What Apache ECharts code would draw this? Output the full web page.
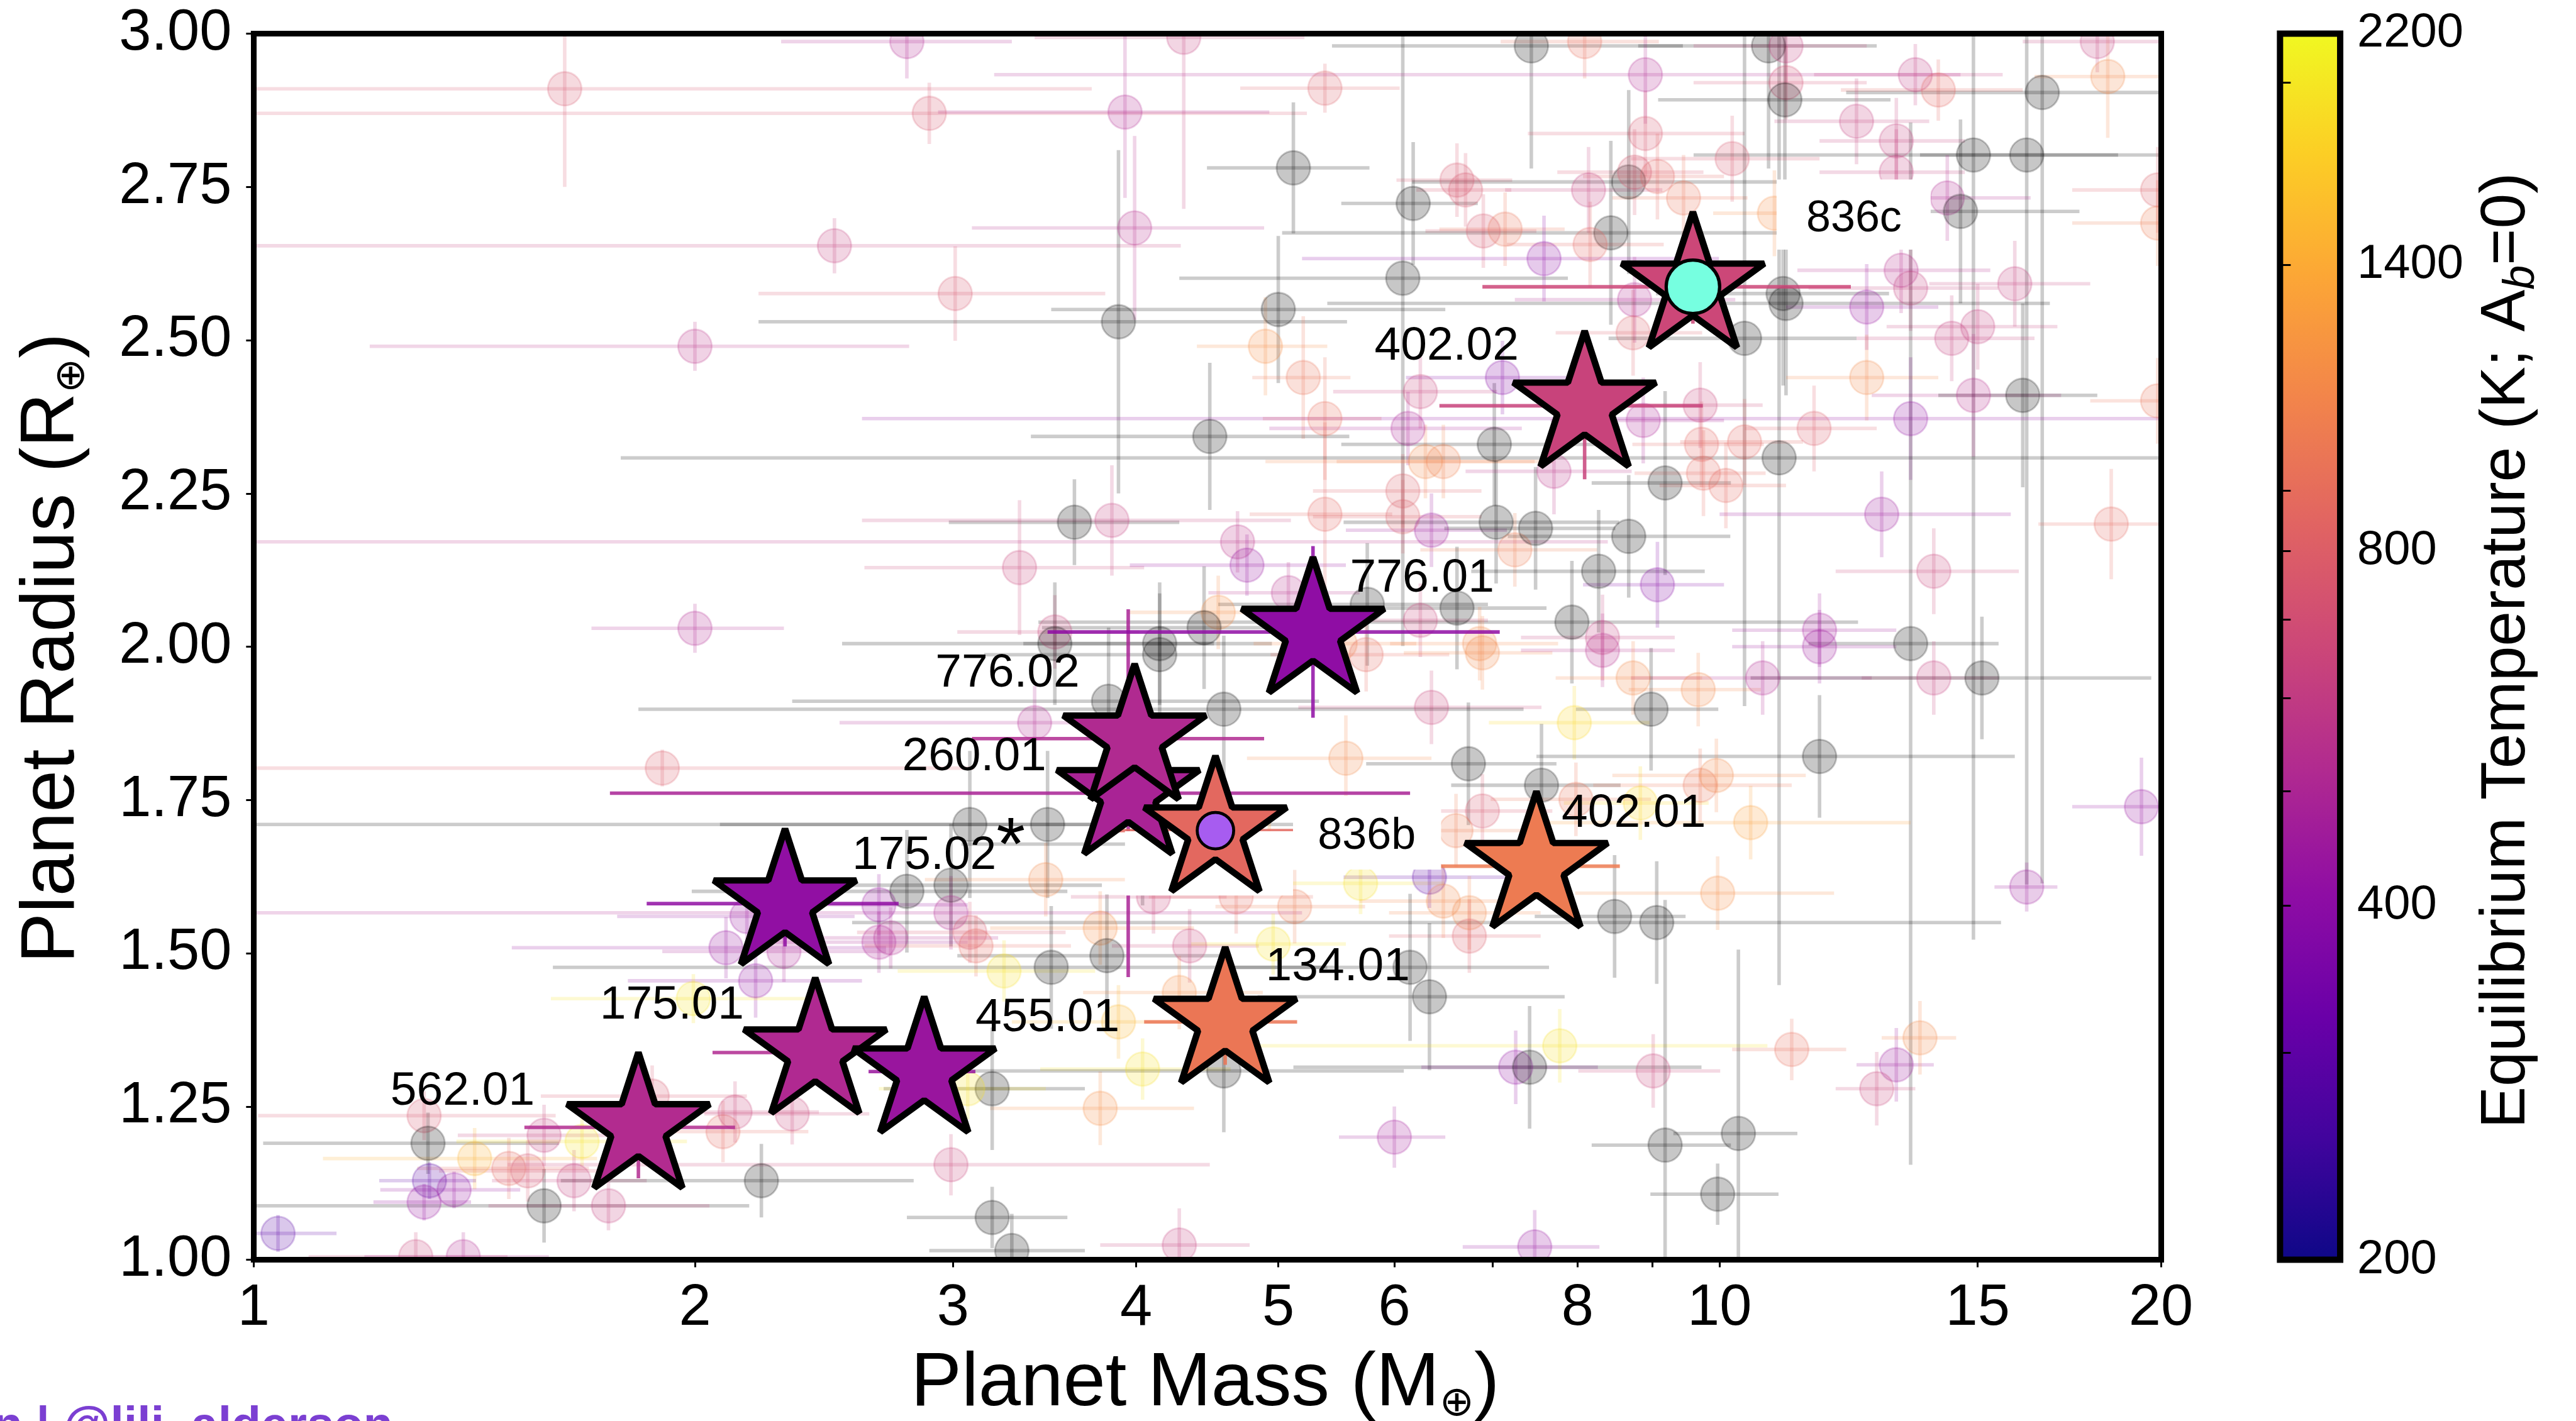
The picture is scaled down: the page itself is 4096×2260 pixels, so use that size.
<!DOCTYPE html>
<html><head><meta charset="utf-8">
<script src="https://cdn.jsdelivr.net/npm/echarts@6/dist/echarts.min.js"></script>
<style>html,body{margin:0;padding:0;background:#fff;}#c{width:4096px;height:2260px;}</style>
</head><body><div id="c"></div>
<script>
// ---------------- DATA ----------------
const xTickLabels = [1, 2, 3, 4, 5, 6, 8, 10, 15, 20];
const xTickMarks = [1, 2, 3, 4, 5, 6, 7, 8, 9, 10, 15, 20];
const yRange = [1.0, 3.0];
const cbarTickLabels = [200, 400, 800, 1400, 2200];
const cbarTickMarks = [200, 300, 400, 500, 600, 700, 800, 900, 1400, 2000, 2200];

// Highlighted planets (TOI)
const starNames  = ['562.01', '175.01', '455.01', '175.02', '260.01', '776.02', '776.01', '134.01', '402.01', '402.02', '836b', '836c'];
const starMark   = ['', '', '', '*', '', '', '', '', '', '', '', ''];
const starMass   = [1.83, 2.416, 2.867, 2.304, 3.95, 3.99, 5.28, 4.60, 7.50, 8.09, 4.53, 9.59];
const starRadius = [1.216, 1.338, 1.307, 1.581, 1.761, 1.850, 2.024, 1.388, 1.642, 2.393, 1.700, 2.587];
const starTeq    = [525, 517, 440, 416, 493, 520, 410, 965, 1001, 642, 871, 665];
const starMassErr   = [0.30, 0.36, 0.24, 0.45, 2.2, 0.9, 1.8, 0.55, 1.05, 1.65, 0.75, 2.7];
const starRadiusErr = [0.083, 0.05, 0.05, 0.07, 0.30, 0.10, 0.14, 0.07, 0.05, 0.12, 0.05, 0.06];

// Background planets (0 = no Teq, drawn grey)
const bgMass = [
  1.63, 2.89, 2.49, 3.01, 3.89, 2.00, 2.00,
  2.79, 4.31, 3.93, 5.38, 5.12, 3.99, 5.00, 4.90, 5.20, 5.38,
  4.49, 6.18, 6.08, 6.62, 6.71, 6.90, 7.14, 6.25, 6.13, 6.30,
  6.48, 6.08, 6.08, 6.36, 7.02, 7.04, 7.11, 7.25, 3.63, 3.85,
  3.33, 4.69, 4.76, 5.38, 5.08, 4.55, 4.45, 4.15, 3.52, 3.52,
  6.25, 6.62, 5.75, 6.86, 5.51,
  7.44, 8.09, 8.90, 10.8, 11.1, 11.1, 11.08, 13.6, 14.1, 16.6,
  18.4, 18.1, 8.90, 10.2, 12.4, 13.2, 13.2, 14.9, 16.2, 19.9,
  19.9, 14.3, 14.6, 8.14, 8.67, 9.07, 8.75, 9.45, 8.43, 8.16,
  7.59, 10.9, 8.75, 8.73, 10.4, 11.05, 11.1, 13.3, 13.5, 12.6,
  15.9, 14.4, 15.0, 12.6, 14.9, 16.1, 19.9, 13.5, 8.87, 9.70,
  9.72, 10.4, 11.6, 10.98, 9.18, 9.75, 10.1, 7.71, 12.9, 18.5,
  7.49, 8.67, 14.0, 8.27, 9.07, 7.93, 8.32, 11.7, 13.5,
  1.90, 2.10, 2.17, 2.30, 2.20, 2.67, 2.67, 1.995, 1.307, 1.315,
  1.415, 1.493, 1.538, 1.578, 1.675, 1.654, 1.318, 1.37, 1.307, 1.578,
  1.746, 1.039, 2.09, 2.13, 2.33, 2.22, 1.87, 1.29, 1.39,
  4.15, 5.74, 6.89, 6.36, 4.59, 3.83, 3.41, 5.56, 6.74, 6.89,
  6.61, 3.08, 3.48, 4.04, 4.93, 4.83, 3.47, 2.79, 2.99, 2.99,
  3.08, 3.11, 2.72, 3.78, 3.82, 3.25, 3.50, 4.11, 4.35, 4.68,
  4.96, 5.13, 5.69, 6.34, 6.48, 6.75, 6.75, 6.15, 6.34, 4.28,
  3.89, 4.04, 3.78, 3.19, 3.07, 4.59, 6.0, 7.26, 2.99, 3.19,
  3.29, 4.28,
  8.32, 8.73, 9.67, 10.7, 11.7, 14.0, 15.1, 7.96, 8.98, 11.7,
  7.56, 7.98, 8.83, 9.70, 9.95, 10.5, 19.4, 16.2, 9.97, 8.48,
  9.06, 7.78, 7.42, 9.01, 11.2, 13.2, 12.8, 13.7, 9.18, 10.3,
  9.97, 7.48
];
const bgRadius = [
  2.91, 2.87, 2.654, 2.576, 2.530, 2.49, 2.03,
  2.987, 2.994, 2.872, 2.911, 2.781, 2.683, 2.550, 2.490, 2.439, 2.372,
  2.343, 2.723, 2.601, 2.761, 2.745, 2.678, 2.681, 2.416, 2.356, 2.302,
  2.302, 2.254, 2.212, 2.190, 2.330, 2.203, 2.439, 2.158, 2.203, 2.206,
  2.129, 2.171, 2.133, 2.216, 2.088, 2.056, 2.031, 2.005, 2.024, 2.005,
  2.043, 2.063, 2.069, 2.005, 2.005,
  2.98, 2.987, 2.933, 2.98, 2.98, 2.92, 2.892, 2.933, 2.908, 2.904,
  2.930, 2.987, 2.837, 2.796, 2.857, 2.825, 2.774, 2.802, 2.802, 2.745,
  2.691, 2.732, 2.710, 2.745, 2.758, 2.767, 2.774, 2.732, 2.675, 2.656,
  2.633, 2.707, 2.566, 2.512, 2.503, 2.576, 2.560, 2.614, 2.585, 2.554,
  2.592, 2.503, 2.522, 2.439, 2.410, 2.410, 2.401, 2.372, 2.369, 2.394,
  2.330, 2.334, 2.356, 2.308, 2.267, 2.283, 2.263, 2.286, 2.216, 2.200,
  2.193, 2.180, 2.123, 2.123, 2.101, 2.040, 2.015, 2.027, 2.005,
  1.802, 1.509, 1.56, 1.503, 1.455, 1.579, 1.518, 1.426, 1.235, 1.190,
  1.165, 1.149, 1.145, 1.203, 1.193, 1.129, 1.129, 1.114, 1.094, 1.088,
  1.088, 1.043, 1.209, 1.241, 1.238, 1.129, 1.267, 1.005, 1.005,
  1.987, 1.987, 1.99, 1.901, 1.898, 1.911, 1.876, 1.818, 1.809, 1.732,
  1.700, 1.71, 1.71, 1.678, 1.668, 1.668, 1.62, 1.601, 1.611, 1.566,
  1.534, 1.512, 1.525, 1.541, 1.496, 1.471, 1.477, 1.592, 1.512, 1.592,
  1.515, 1.576, 1.614, 1.624, 1.585, 1.566, 1.528, 1.477, 1.429, 1.436,
  1.388, 1.311, 1.247, 1.279, 1.279, 1.308, 1.20, 1.314, 1.155, 1.069,
  1.015, 1.024,
  1.994, 1.949, 1.930, 1.949, 2.0, 1.949, 1.949, 1.876, 1.898, 1.821,
  1.774, 1.751, 1.745, 1.774, 1.790, 1.713, 1.739, 1.608, 1.598, 1.560,
  1.550, 1.349, 1.314, 1.308, 1.343, 1.318, 1.279, 1.362, 1.187, 1.206,
  1.107, 1.021
];
const bgTeq = [
  750, 750, 620, 750, 0, 560, 520,
  520, 620, 520, 800, 0, 540, 0, 1150, 950, 900,
  0, 0, 0, 750, 750, 750, 950, 640, 500, 1100,
  1050, 800, 800, 450, 0, 0, 380, 1000, 0, 620,
  650, 560, 430, 850, 550, 1150, 0, 0, 650, 0,
  650, 0, 0, 1100, 1100,
  0, 900, 520, 0, 620, 700, 0, 600, 850, 0,
  1100, 620, 750, 750, 620, 620, 620, 0, 0, 800,
  1000, 520, 0, 620, 0, 850, 750, 950, 0, 850,
  400, 1150, 520, 800, 0, 0, 0, 540, 620, 430,
  620, 620, 620, 1100, 540, 0, 950, 420, 500, 650,
  850, 850, 780, 0, 0, 880, 880, 560, 450, 880,
  0, 0, 650, 0, 380, 0, 620, 470, 0,
  780, 430, 430, 500, 420, 430, 500, 1950, 750, 0,
  1450, 880, 750, 620, 1950, 620, 290, 430, 430, 0,
  620, 290, 880, 650, 650, 0, 750, 650, 520,
  0, 880, 1100, 650, 0, 0, 520, 1100, 0, 750,
  1000, 0, 0, 0, 1350, 500, 1100, 0, 0, 520,
  750, 880, 520, 1150, 0, 1900, 0, 650, 650, 880,
  1900, 1000, 1900, 300, 1100, 1100, 780, 0, 0, 1150,
  1500, 1900, 1150, 0, 1900, 0, 470, 420, 650, 0,
  0, 620,
  540, 1100, 1100, 520, 450, 620, 0, 1800, 0, 0,
  0, 950, 1800, 950, 1100, 1300, 430, 450, 1150, 0,
  0, 1900, 0, 650, 900, 450, 650, 1100, 0, 0,
  0, 430
];
const bgMassErr = [
  2.1, 2.34, 1.8, 0.8, 1.68, 0.8, 0.3,
  0.5, 0.9, 1.0, 0.67, 0.65, 0.9, 1.5, 0.5, 0.4, 0.5,
  1.1, 0.66, 1.8, 0.6, 0.5, 0.6, 0.7, 0.8, 1.2, 1.4,
  1.0, 0.8, 0.8, 0.8, 1.5, 1.5, 1.0, 1.0, 0.65, 1.25,
  0.72, 3.7, 0.8, 0.6, 0.6, 0.6, 1.0, 0.8, 0.5, 1.0,
  0.7, 1.0, 1.2, 0.9, 0.7,
  2.0, 1.0, 5.7, 2.0, 1.5, 1.5, 2.0, 2.0, 2.0, 4.4,
  2.0, 2.0, 1.5, 1.5, 1.5, 1.5, 1.5, 5.3, 2.5, 2.5,
  2.5, 2.0, 3.0, 1.0, 2.5, 1.0, 1.0, 1.0, 3.4, 1.0,
  2.4, 1.0, 1.5, 1.0, 2.0, 2.0, 5.7, 2.0, 2.0, 1.5,
  2.0, 2.0, 2.0, 1.5, 2.2, 2.0, 2.0, 10.9, 1.2, 1.0,
  1.0, 1.0, 1.2, 9.2, 1.0, 1.0, 1.0, 1.0, 2.9, 2.0,
  1.0, 1.5, 2.0, 1.5, 1.0, 4.5, 1.0, 1.5, 2.0,
  1.2, 0.6, 0.4, 0.4, 0.4, 0.4, 0.4, 0.4, 0.3, 0.3,
  0.3, 0.2, 0.2, 0.2, 0.3, 0.2, 0.1, 0.15, 0.1, 0.6,
  0.3, 0.1, 0.3, 0.3, 0.3, 0.6, 0.3, 0.2, 0.2,
  1.0, 0.8, 0.8, 1.2, 2.76, 1.5, 0.9, 0.8, 1.0, 0.8,
  0.8, 1.0, 2.6, 1.0, 0.8, 0.5, 0.6, 0.8, 0.8, 2.2,
  0.5, 0.5, 0.5, 0.6, 0.8, 0.5, 1.9, 0.5, 0.5, 0.6,
  0.6, 0.6, 0.8, 0.8, 0.8, 0.8, 0.8, 1.5, 1.5, 0.6,
  0.6, 0.6, 0.6, 0.5, 0.4, 1.5, 0.5, 1.0, 1.5, 0.4,
  0.4, 0.5,
  1.0, 1.0, 1.0, 2.0, 1.5, 1.5, 4.6, 1.0, 1.0, 4.2,
  1.0, 1.0, 1.0, 1.5, 1.5, 3.0, 2.0, 0.8, 2.0, 1.0,
  6.5, 3.0, 2.3, 1.0, 1.0, 0.8, 0.8, 0.8, 1.0, 1.0,
  1.0, 0.8
];
const bgRadiusErr = [
  0.16, 0.05, 0.045, 0.077, 0.28, 0.04, 0.04,
  0.06, 0.28, 0.14, 0.04, 0.107, 0.15, 0.12, 0.08, 0.1, 0.1,
  0.12, 0.1, 0.6, 0.06, 0.06, 0.06, 0.06, 0.06, 0.06, 0.06,
  0.06, 0.06, 0.06, 0.06, 0.1, 0.1, 0.06, 0.06, 0.07, 0.09,
  0.11, 0.05, 0.05, 0.15, 0.05, 0.06, 0.1, 0.1, 0.06, 0.1,
  0.06, 0.1, 0.1, 0.06, 0.06,
  0.2, 0.06, 0.08, 0.2, 0.06, 0.06, 0.15, 0.05, 0.05, 1.29,
  0.1, 0.05, 0.07, 0.07, 0.07, 0.07, 0.07, 1.28, 1.19, 0.07,
  0.07, 0.07, 0.15, 0.07, 0.15, 0.07, 0.07, 0.07, 0.15, 0.07,
  0.07, 0.07, 0.07, 0.07, 0.6, 0.15, 0.15, 0.07, 0.07, 0.07,
  0.07, 0.07, 0.07, 0.07, 0.1, 0.15, 0.07, 0.1, 0.07, 0.07,
  0.07, 0.07, 0.07, 0.86, 0.15, 0.07, 0.07, 0.07, 0.07, 0.09,
  0.1, 0.1, 0.07, 0.1, 0.07, 0.1, 0.07, 0.06, 0.85,
  0.03, 0.05, 0.05, 0.05, 0.06, 0.05, 0.05, 0.04, 0.04, 0.05,
  0.05, 0.05, 0.05, 0.05, 0.04, 0.05, 0.03, 0.03, 0.03, 0.06,
  0.04, 0.03, 0.05, 0.05, 0.05, 0.06, 0.05, 0.04, 0.04,
  0.1, 0.06, 0.06, 0.06, 0.12, 0.12, 0.06, 0.07, 0.1, 0.06,
  0.06, 0.12, 0.12, 0.1, 0.06, 0.04, 0.06, 0.1, 0.1, 0.06,
  0.05, 0.05, 0.05, 0.06, 0.1, 0.05, 0.1, 0.06, 0.06, 0.06,
  0.05, 0.06, 0.05, 0.05, 0.06, 0.06, 0.06, 0.12, 0.12, 0.06,
  0.06, 0.05, 0.06, 0.1, 0.05, 0.1, 0.05, 0.06, 0.05, 0.05,
  0.06, 0.06,
  0.06, 0.06, 0.06, 0.06, 0.06, 0.06, 0.1, 0.06, 0.1, 0.1,
  0.1, 0.06, 0.06, 0.06, 0.06, 0.06, 0.08, 0.04, 0.06, 0.1,
  0.1, 0.06, 0.1, 0.06, 0.05, 0.06, 0.06, 0.06, 0.4, 0.3,
  0.05, 0.06
];

// ---------------- LAYOUT / STYLE ----------------
const S = 0.938;
const FONT = "'Liberation Sans', Arial, Helvetica, 'DejaVu Sans', sans-serif";
const GX = 430 * S, GY = 57 * S, GW = (3663 - 430) * S, GH = (2136 - 57) * S;
const CX = 3865 * S, CW = (3967 - 3865) * S;
const STAR_R = 127 * S;
const BAR_W = 6 * S;
const DOT_R = 30 * S;
// label offsets (px, from star centre)
const LABEL_DX = [-298, -243, 209, 260.5, -261, -215.5, 185, 191, 165, -234, 256.5, 273].map(v => v * S);
const LABEL_DY = [-60, -80, -90, -81, -61, -110, -90.6, -92.7, -88.6, -100, 10, -115].map(v => v * S);

const PLASMA = [[13,8,135],[65,4,157],[106,0,168],[143,13,164],[177,42,144],[204,71,120],[225,100,98],[242,132,75],[252,166,54],[252,206,37],[240,249,33]];
function plasma(t) {
  t = Math.min(1, Math.max(0, t));
  const x = t * 10, i = Math.min(9, Math.floor(x)), f = x - i;
  const a = PLASMA[i], b = PLASMA[i + 1];
  return [0, 1, 2].map(k => Math.round(a[k] + (b[k] - a[k]) * f));
}
const TMIN = cbarTickLabels[0], TMAX = cbarTickLabels[cbarTickLabels.length - 1];
function teqRGB(t) {
  if (!t) return [0, 0, 0];
  return plasma((Math.log10(t) - Math.log10(TMIN)) / (Math.log10(TMAX) - Math.log10(TMIN)));
}
function rgba(t, a) { const c = teqRGB(t); return 'rgba(' + c[0] + ',' + c[1] + ',' + c[2] + ',' + a + ')'; }

function starPath() {
  const pts = [];
  for (let i = 0; i < 10; i++) {
    const rad = (i % 2 === 0) ? 1 : 0.381966;
    const a = -Math.PI / 2 + i * Math.PI / 5;
    pts.push((rad * Math.cos(a) * 100).toFixed(3) + ',' + (rad * Math.sin(a) * 100).toFixed(3));
  }
  return 'path://M' + pts.join('L') + 'Z';
}

const bgData = bgMass.map((m, i) => [m, bgRadius[i], bgMassErr[i], bgRadiusErr[i], bgTeq[i]]);
const starData = starMass.map((m, i) => [m, starRadius[i], starMassErr[i], starRadiusErr[i], starTeq[i], i]);

function errBars(alpha) {
  return function (params, api) {
    const m = api.value(0), r = api.value(1), me = api.value(2), re = api.value(3), teq = api.value(4);
    const col = rgba(teq, alpha);
    const L = api.coord([Math.max(m - me, 0.3), r]);
    const R = api.coord([m + me, r]);
    const U = api.coord([m, r + re]);
    const D = api.coord([m, r - re]);
    return { type: 'group', children: [
      { type: 'line', shape: { x1: L[0], y1: L[1], x2: R[0], y2: R[1] }, style: { stroke: col, lineWidth: BAR_W } },
      { type: 'line', shape: { x1: U[0], y1: U[1], x2: D[0], y2: D[1] }, style: { stroke: col, lineWidth: BAR_W } }
    ] };
  };
}

const i836b = starNames.indexOf('836b'), i836c = starNames.indexOf('836c');

const chart = echarts.init(document.getElementById('c'), null, { renderer: 'canvas' });
const axisFont = { fontFamily: FONT, color: '#000' };
const option = {
  animation: false,
  backgroundColor: '#ffffff',
  grid: [
    { left: GX, top: GY, width: GW, height: GH, show: false, containLabel: false, outerBoundsMode: 'none' },
    { left: CX, top: GY, width: CW, height: GH, show: false, containLabel: false, outerBoundsMode: 'none' }
  ],
  xAxis: [
    { type: 'log', logBase: 10, gridIndex: 0, min: 1, max: 20, position: 'bottom', z: 20,
      axisLine: { show: true, lineStyle: { color: '#000', width: 9, cap: 'square' } },
      axisTick: { show: true, customValues: xTickMarks, length: 12, inside: false, lineStyle: { color: '#000', width: 3 } },
      axisLabel: Object.assign({ show: true, customValues: xTickLabels, fontSize: 92, margin: 32, formatter: v => String(Math.round(v)) }, axisFont),
      splitLine: { show: false }, minorTick: { show: false } },
    { type: 'log', logBase: 10, gridIndex: 0, min: 1, max: 20, position: 'top', z: 20,
      axisLine: { show: true, lineStyle: { color: '#000', width: 9, cap: 'square' } },
      axisTick: { show: false }, axisLabel: { show: false }, splitLine: { show: false } },
    { type: 'value', gridIndex: 1, min: 0, max: 1, show: false }
  ],
  yAxis: [
    { type: 'value', gridIndex: 0, min: yRange[0], max: yRange[1], interval: 0.25, position: 'left', z: 20,
      axisLine: { show: true, lineStyle: { color: '#000', width: 9, cap: 'square' } },
      axisTick: { show: true, length: 12, lineStyle: { color: '#000', width: 3 } },
      axisLabel: Object.assign({ show: true, fontSize: 92, margin: 35, formatter: v => v.toFixed(2) }, axisFont),
      splitLine: { show: false } },
    { type: 'value', gridIndex: 0, min: yRange[0], max: yRange[1], position: 'right', z: 20,
      axisLine: { show: true, lineStyle: { color: '#000', width: 9, cap: 'square' } },
      axisTick: { show: false }, axisLabel: { show: false }, splitLine: { show: false } },
    { type: 'log', logBase: 10, gridIndex: 1, min: TMIN, max: TMAX, position: 'right', z: 20,
      axisLine: { show: false },
      axisTick: { show: true, customValues: cbarTickMarks, length: 17, lineStyle: { color: '#000', width: 3 } },
      axisLabel: Object.assign({ show: true, customValues: cbarTickLabels, fontSize: 76, margin: 27, formatter: v => String(Math.round(v)) }, axisFont),
      splitLine: { show: false } }
  ],
  series: [
    { type: 'custom', name: 'bgErr', xAxisIndex: 0, yAxisIndex: 0, clip: true, z: 1, silent: true,
      renderItem: errBars(0.2), data: bgData },
    { type: 'custom', name: 'bgDots', xAxisIndex: 0, yAxisIndex: 0, clip: true, z: 2, silent: true,
      renderItem: function (params, api) {
        const p = api.coord([api.value(0), api.value(1)]);
        const teq = api.value(4);
        return { type: 'circle', shape: { cx: p[0], cy: p[1], r: DOT_R - 1.4 },
          style: { fill: rgba(teq, 0.22), stroke: rgba(teq, 0.22), lineWidth: 2.8 } };
      }, data: bgData },
    { type: 'custom', name: 'starErr', xAxisIndex: 0, yAxisIndex: 0, clip: true, z: 3, silent: true,
      renderItem: errBars(0.85), data: starData },
    { type: 'custom', name: 'boxes', xAxisIndex: 0, yAxisIndex: 0, clip: true, z: 4, silent: true,
      renderItem: function (params, api) {
        const idx = api.value(5);
        const p = api.coord([api.value(0), api.value(1)]);
        if (idx === i836c) {
          return { type: 'rect', shape: { x: p[0] + 142 * S, y: p[1] - 182 * S, width: 261 * S, height: 119 * S }, style: { fill: '#fff' } };
        }
        if (idx === i836b) {
          return { type: 'group', children: [
            { type: 'rect', shape: { x: p[0] + 131.5 * S, y: p[1] - 59 * S, width: 251 * S, height: 125 * S }, style: { fill: '#fff' } },
            { type: 'rect', shape: { x: p[0] - 153.5 * S, y: p[1] + 1 * S, width: 285 * S, height: 109 * S }, style: { fill: '#fff' } }
          ] };
        }
        return null;
      }, data: starData },
    { type: 'scatter', name: 'stars', xAxisIndex: 0, yAxisIndex: 0, z: 5, silent: true,
      symbol: starPath(), symbolSize: [1.902 * STAR_R, 1.809 * STAR_R], symbolOffset: [0, -0.0955 * STAR_R],
      itemStyle: { borderColor: '#000', borderWidth: 10.3, borderJoin: 'bevel', opacity: 1 },
      data: starData.map((d, i) => {
        const c = teqRGB(starTeq[i]);
        return { value: [d[0], d[1]], itemStyle: { color: 'rgb(' + c.join(',') + ')', opacity: 1 } };
      }) },
    { type: 'scatter', name: 'moons', xAxisIndex: 0, yAxisIndex: 0, z: 6, silent: true,
      symbol: 'circle', itemStyle: { opacity: 1 },
      data: [
        { value: [starMass[i836c], starRadius[i836c]], symbolSize: 85, itemStyle: { color: '#76ffe0', borderColor: '#000', borderWidth: 5.2, opacity: 1 } },
        { value: [starMass[i836b], starRadius[i836b]], symbolSize: 58, itemStyle: { color: '#a75cf0', borderColor: '#000', borderWidth: 4.7, opacity: 1 } }
      ] },
    { type: 'custom', name: 'labels', xAxisIndex: 0, yAxisIndex: 0, clip: false, z: 7, silent: true,
      renderItem: function (params, api) {
        const idx = api.value(5);
        const p = api.coord([api.value(0), api.value(1)]);
        const is836 = (idx === i836b || idx === i836c);
        const txt = starMark[idx] ? '{n|' + starNames[idx] + '}{a|' + starMark[idx] + '}' : '{n|' + starNames[idx] + '}';
        return { type: 'text', x: p[0] + LABEL_DX[idx], y: p[1] + LABEL_DY[idx],
          style: { text: txt, align: 'center', verticalAlign: 'middle',
            rich: { n: { fontFamily: FONT, fontSize: is836 ? 70 : 75, fill: '#000', lineHeight: 90 },
                    a: { fontFamily: FONT, fontSize: 118, fill: '#000', lineHeight: 90, padding: [0, 0, 22, 0] } } } };
      }, data: starData },
    { type: 'custom', name: 'colorbar', xAxisIndex: 2, yAxisIndex: 2, z: 2, silent: true,
      renderItem: function (params, api) {
        const p0 = api.coord([0, TMIN]);
        const p1 = api.coord([1, TMAX]);
        const stops = PLASMA.map((c, i) => ({ offset: i / 10, color: 'rgb(' + c.join(',') + ')' }));
        return { type: 'rect', shape: { x: p0[0], y: p1[1], width: p1[0] - p0[0], height: p0[1] - p1[1] },
          style: { fill: new echarts.graphic.LinearGradient(0, 1, 0, 0, stops), stroke: '#000', lineWidth: 10 } };
      }, data: [[0, TMIN]] }
  ],
  graphic: [
    { type: 'text', x: 2043 * S, y: 2202, silent: true,
      style: { text: '{m|Planet Mass (M}{s|⊕}{m|)}', align: 'center', verticalAlign: 'middle',
        rich: { m: { fontFamily: FONT, fontSize: 121, fill: '#000', lineHeight: 134 },
                s: { fontFamily: "'DejaVu Sans', sans-serif", fontSize: 66, fill: '#000', lineHeight: 134, padding: [64, 0, 0, 0] } } } },
    { type: 'text', x: 84, y: 1099 * S, rotation: Math.PI / 2, silent: true,
      style: { text: '{m|Planet Radius (R}{s|⊕}{m|)}', align: 'center', verticalAlign: 'middle',
        rich: { m: { fontFamily: FONT, fontSize: 120, fill: '#000', lineHeight: 134 },
                s: { fontFamily: "'DejaVu Sans', sans-serif", fontSize: 66, fill: '#000', lineHeight: 134, padding: [64, 0, 0, 0] } } } },
    { type: 'text', x: 3986, y: 1103 * S, rotation: Math.PI / 2, silent: true,
      style: { text: '{m|Equilibrium Temperature (K; A}{s|b}{m|=0)}', align: 'center', verticalAlign: 'middle',
        rich: { m: { fontFamily: FONT, fontSize: 100, fill: '#000', lineHeight: 112 },
                s: { fontFamily: FONT, fontStyle: 'italic', fontSize: 70, fill: '#000', lineHeight: 112, padding: [48, 0, 0, 0] } } } },
    { type: 'text', x: -11, y: 2271, silent: true,
      style: { text: 'n | @lili_alderson', fontFamily: FONT, fontWeight: 'bold', fontSize: 77, fill: '#7b3fd2', align: 'left', verticalAlign: 'middle' } }
  ]
};
chart.setOption(option);
</script></body></html>
